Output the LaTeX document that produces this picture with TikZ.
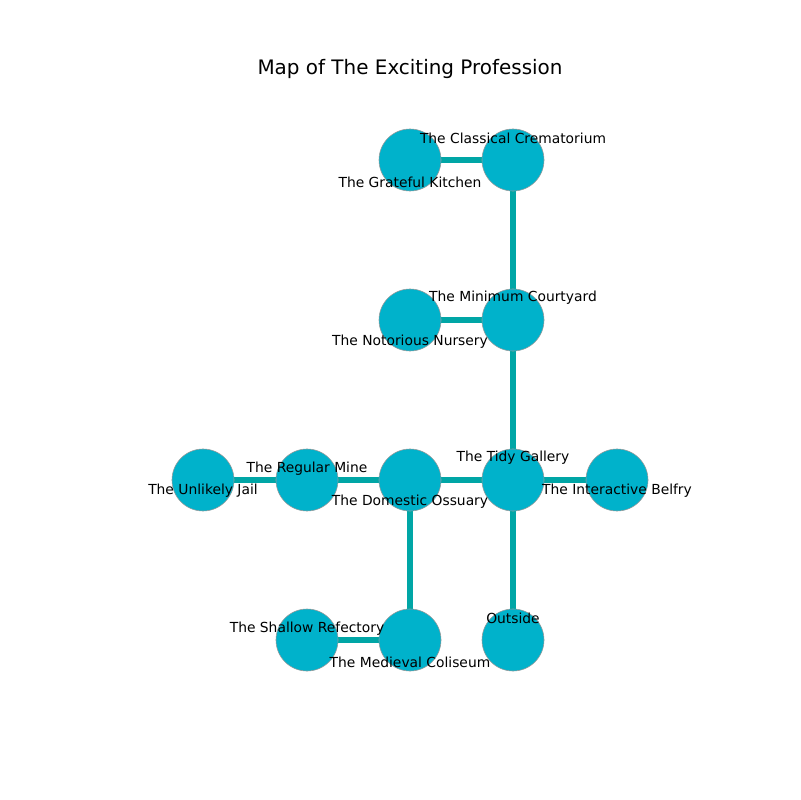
\documentclass[tikz,border=0pt]{standalone}
\usepackage{fontspec}
\setmainfont{DejaVu Sans}
\usetikzlibrary{backgrounds}
\definecolor{nodefill}{HTML}{00B2CB}
\definecolor{edgecol}{HTML}{00A6A6}
\begin{document}
\begin{tikzpicture}[x=0.01in,y=-0.01in,
  room/.style={circle,fill=nodefill,draw=gray!80,line width=0.4pt,minimum size=0.62in,inner sep=0pt},
  lbl/.style={font=\fontsize{10}{12}\selectfont,inner sep=0pt},
  link/.style={edgecol,line width=3.8pt}]
\useasboundingbox (0,0) rectangle (800,800);
\node[font=\fontsize{14.4}{16}\selectfont] (title) at (410,69) {Map of The Exciting Profession};
\node[room] (kit) at (410,160) {};
\node[room] (cre) at (513,160) {};
\node[room] (nur) at (410,320) {};
\node[room] (cou) at (513,320) {};
\node[room] (jai) at (203,480) {};
\node[room] (min) at (307,480) {};
\node[room] (oss) at (410,480) {};
\node[room] (gal) at (513,480) {};
\node[room] (bel) at (617,480) {};
\node[room] (ref) at (307,640) {};
\node[room] (col) at (410,640) {};
\node[room] (out) at (513,640) {};
\begin{scope}[on background layer]
\draw[link] (kit.center) -- (cre.center);
\draw[link] (cre.center) -- (cou.center);
\draw[link] (nur.center) -- (cou.center);
\draw[link] (cou.center) -- (gal.center);
\draw[link] (gal.center) -- (bel.center);
\draw[link] (gal.center) -- (out.center);
\draw[link] (gal.center) -- (oss.center);
\draw[link] (oss.center) -- (min.center);
\draw[link] (min.center) -- (jai.center);
\draw[link] (oss.center) -- (col.center);
\draw[link] (col.center) -- (ref.center);
\end{scope}
\node[lbl] (l1) at (513,138) {The Classical Crematorium};
\node[lbl] (l2) at (410,182) {The Grateful Kitchen};
\node[lbl] (l3) at (513,298) {The Minimum Courtyard};
\node[lbl] (l4) at (410,342) {The Notorious Nursery};
\node[lbl] (l5) at (307,469) {The Regular Mine};
\node[lbl] (l6) at (203,491) {The Unlikely Jail};
\node[lbl] (l7) at (410,502) {The Domestic Ossuary};
\node[lbl] (l8) at (513,458) {The Tidy Gallery};
\node[lbl] (l9) at (617,491) {The Interactive Belfry};
\node[lbl] (l10) at (307,629) {The Shallow Refectory};
\node[lbl] (l11) at (410,662) {The Medieval Coliseum};
\node[lbl] (l12) at (513,618) {Outside};
\end{tikzpicture}
\end{document}
